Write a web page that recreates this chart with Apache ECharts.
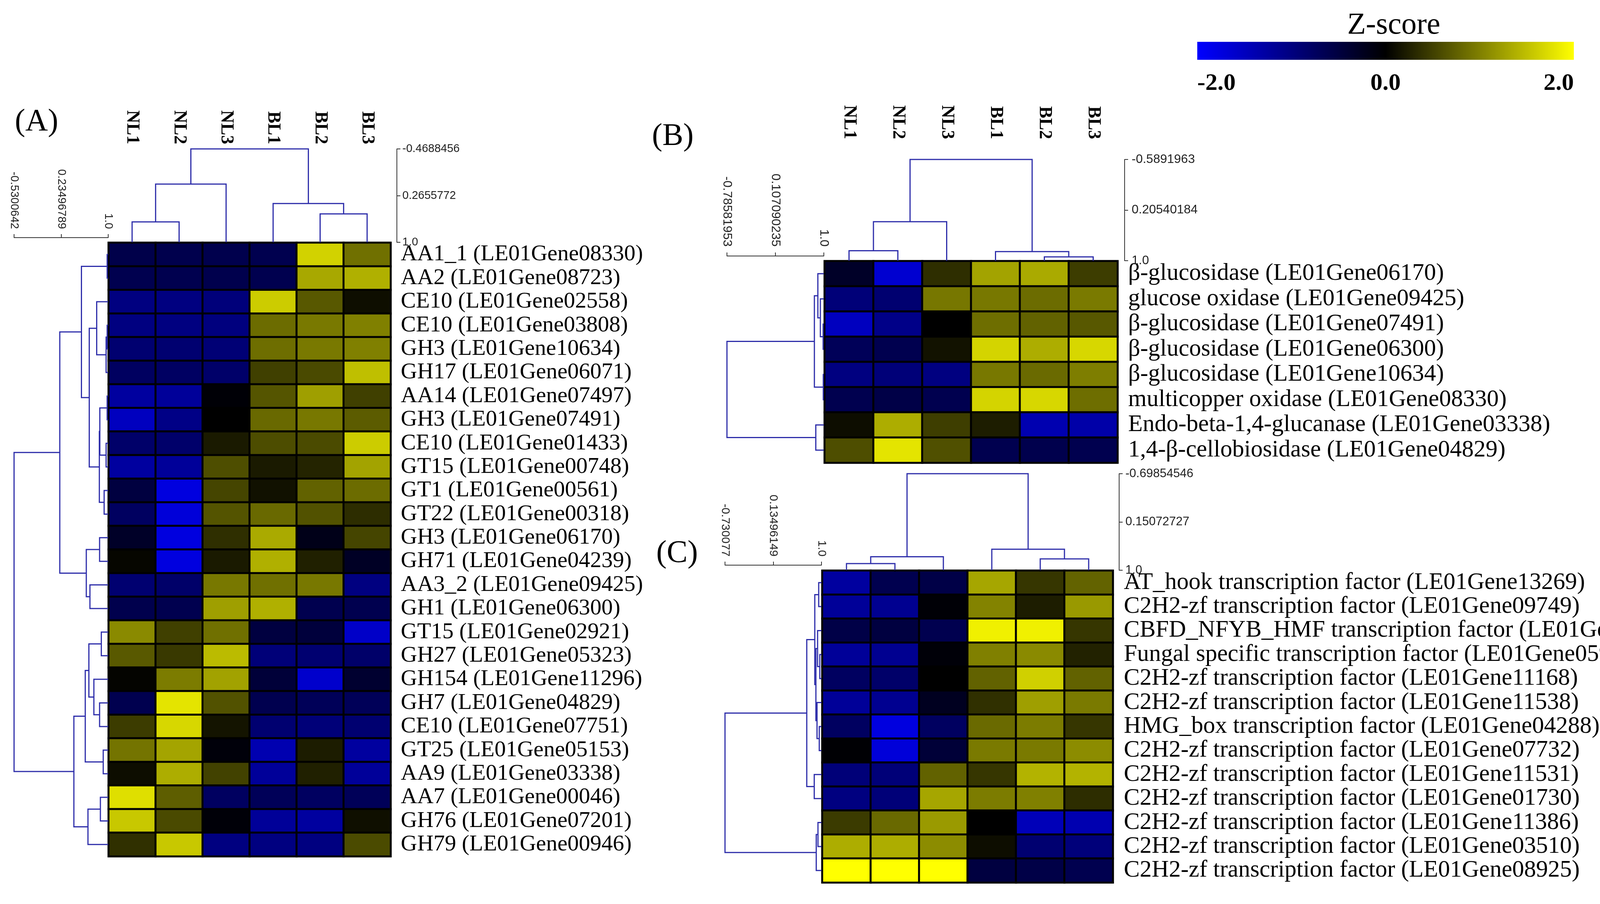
<!DOCTYPE html>
<html><head><meta charset="utf-8">
<script src="https://cdn.jsdelivr.net/npm/echarts@6/dist/echarts.min.js"></script>
<style>html,body{margin:0;padding:0;background:#fff}#c{width:4375px;height:2313px}</style>
</head><body><div id="c"></div>
<script>
// ---------------- DATA ----------------
const samples = ['NL1','NL2','NL3','BL1','BL2','BL3'];

const genesA = ['AA1_1 (LE01Gene08330)','AA2 (LE01Gene08723)','CE10 (LE01Gene02558)','CE10 (LE01Gene03808)',
  'GH3 (LE01Gene10634)','GH17 (LE01Gene06071)','AA14 (LE01Gene07497)','GH3 (LE01Gene07491)','CE10 (LE01Gene01433)',
  'GT15 (LE01Gene00748)','GT1 (LE01Gene00561)','GT22 (LE01Gene00318)','GH3 (LE01Gene06170)','GH71 (LE01Gene04239)',
  'AA3_2 (LE01Gene09425)','GH1 (LE01Gene06300)','GT15 (LE01Gene02921)','GH27 (LE01Gene05323)','GH154 (LE01Gene11296)',
  'GH7 (LE01Gene04829)','CE10 (LE01Gene07751)','GT25 (LE01Gene05153)','AA9 (LE01Gene03338)','AA7 (LE01Gene00046)',
  'GH76 (LE01Gene07201)','GH79 (LE01Gene00946)'];
const zA = [
  [-0.58,-0.60,-0.60,-0.62, 1.65, 0.88],
  [-0.62,-0.62,-0.60,-0.62, 1.32, 1.38],
  [-1.00,-1.00,-0.96, 1.60, 0.69, 0.11],
  [-1.00,-1.00,-0.99, 0.85, 0.95, 1.00],
  [-0.88,-0.88,-0.92, 0.86, 0.95, 1.00],
  [-0.75,-0.77,-0.82, 0.50, 0.58, 1.50],
  [-1.25,-1.20,-0.05, 0.67, 1.25, 0.50],
  [-1.50,-1.05, 0.00, 0.82, 0.94, 0.72],
  [-0.82,-0.83, 0.20, 0.60, 0.59, 1.60],
  [-1.25,-1.20, 0.61, 0.20, 0.28, 1.28],
  [-0.50,-1.75, 0.54, 0.13, 0.77, 0.85],
  [-0.75,-1.70, 0.66, 0.82, 0.64, 0.35],
  [-0.31,-1.75, 0.37, 1.33,-0.19, 0.54],
  [ 0.05,-1.75, 0.20, 1.38, 0.25,-0.29],
  [-0.88,-0.82, 0.94, 0.88, 0.94,-1.00],
  [-0.60,-0.62, 1.25, 1.38,-0.62,-0.62],
  [ 1.08, 0.50, 0.88,-0.50,-0.47,-1.57],
  [ 0.70, 0.45, 1.47,-0.94,-0.88,-0.82],
  [ 0.03, 0.97, 1.27,-0.45,-1.60,-0.38],
  [-0.62, 1.79, 0.64,-0.62,-0.69,-0.69],
  [ 0.47, 1.69, 0.16,-0.88,-0.94,-0.88],
  [ 0.91, 1.29,-0.08,-1.38, 0.22,-1.25],
  [ 0.10, 1.36, 0.52,-1.20, 0.25,-1.20],
  [ 1.75, 0.74,-0.75,-0.69,-0.75,-0.69],
  [ 1.57, 0.58,-0.06,-1.19,-1.25, 0.12],
  [ 0.38, 1.57,-1.00,-1.00,-1.00, 0.59]];

const genesB = ['β-glucosidase (LE01Gene06170)','glucose oxidase (LE01Gene09425)','β-glucosidase (LE01Gene07491)',
  'β-glucosidase (LE01Gene06300)','β-glucosidase (LE01Gene10634)','multicopper oxidase (LE01Gene08330)',
  'Endo-beta-1,4-glucanase (LE01Gene03338)','1,4-β-cellobiosidase (LE01Gene04829)'];
const zB = [
  [-0.31,-1.63, 0.36, 1.28, 1.33, 0.48],
  [-0.94,-0.88, 0.93, 0.94, 0.85, 0.96],
  [-1.50,-1.07, 0.00, 0.86, 0.77, 0.69],
  [-0.69,-0.62, 0.14, 1.66, 1.36, 1.69],
  [-1.00,-0.94,-1.00, 0.94, 0.83, 0.99],
  [-0.62,-0.56,-0.62, 1.66, 1.69, 0.86],
  [ 0.10, 1.36, 0.49, 0.23,-1.38,-1.32],
  [ 0.61, 1.79, 0.63,-0.62,-0.60,-0.62]];

const genesC = ['AT_hook transcription factor (LE01Gene13269)','C2H2-zf transcription factor (LE01Gene09749)',
  'CBFD_NFYB_HMF transcription factor (LE01Gene09820)','Fungal specific transcription factor (LE01Gene05969)',
  'C2H2-zf transcription factor (LE01Gene11168)','C2H2-zf transcription factor (LE01Gene11538)',
  'HMG_box transcription factor (LE01Gene04288)','C2H2-zf transcription factor (LE01Gene07732)',
  'C2H2-zf transcription factor (LE01Gene11531)','C2H2-zf transcription factor (LE01Gene01730)',
  'C2H2-zf transcription factor (LE01Gene11386)','C2H2-zf transcription factor (LE01Gene03510)',
  'C2H2-zf transcription factor (LE01Gene08925)'];
const zC = [
  [-1.25,-0.62,-0.56, 1.30, 0.42, 0.78],
  [-1.19,-1.13,-0.05, 1.03, 0.23, 1.20],
  [-0.56,-0.50,-0.62, 1.88, 1.88, 0.42],
  [-1.19,-1.13,-0.06, 1.00, 1.08, 0.27],
  [-0.75,-0.82, 0.00, 0.77, 1.63, 0.77],
  [-1.19,-1.13,-0.25, 0.38, 1.25, 0.96],
  [-0.75,-1.75,-0.75, 0.83, 0.97, 0.42],
  [-0.03,-1.70,-0.44, 0.96, 0.96, 1.10],
  [-0.94,-0.94, 0.77, 0.42, 1.40, 1.40],
  [-1.00,-0.94, 1.30, 0.97, 1.00, 0.35],
  [ 0.46, 0.82, 1.21, 0.00,-1.44,-1.38],
  [ 1.36, 1.36, 1.10, 0.10,-0.88,-0.96],
  [ 2.00, 2.00, 2.00,-0.50,-0.56,-0.62]];

// dendrograms: [left, right, mergeHeight]; leaves are row/column indices (leaf height 1.0)
const colTreeA = [[[0,1,0.679],2,0.085],[3,[4,5,0.553],0.39],-0.4688456];
const rowTreeA = [
  [[[0,1,0.983],[[2,[[3,4,0.983],5,0.966],0.813],[[[6,7,0.983],[8,9,0.966],0.864],[10,11,0.934],0.856],0.692],0.565],
   [[12,13,0.86],[14,15,0.703],0.644],0.213],
  [[[[16,17,0.888],[18,[19,20,0.86],0.767],0.686],[21,22,0.919],0.627],[[23,24,0.873],25,0.671],0.442],
  -0.5300642];
const colTreeB = [[[0,1,0.844],2,0.388],[3,[4,5,0.94],0.858],-0.5891963];
const rowTreeB = [[[0,[1,[2,3,0.987],0.936],0.89],[4,5,0.99],0.826],[6,7,0.852],-0.78581953];
const colTreeC = [[[0,1,0.883],2,0.762],[3,[4,5,0.801],0.631],-0.69854546];
const rowTreeC = [[[[0,1,0.95],[[2,[3,4,0.97],0.93],[5,[6,7,0.96],0.92],0.9],0.88],[8,9,0.87],0.736],
  [[10,11,0.937],12,0.906],-0.730077];

// dendrogram scale tick labels
const colScaleA = ['-0.4688456','0.2655772','1.0'];
const rowScaleA = ['-0.5300642','0.23496789','1.0'];
const colScaleB = ['-0.5891963','0.20540184','1.0'];
const rowScaleB = ['-0.78581953','0.107090235','1.0'];
const colScaleC = ['-0.69854546','0.15072727','1.0'];
const rowScaleC = ['-0.730077','0.13496149','1.0'];

const zTicks = [-2, 0, 2];
const zTickLabels = ['-2.0','0.0','2.0'];
const zColors = ['#0000ff','#000000','#ffff00'];

// ---------------- HELPERS ----------------
const SERIF = "'Liberation Serif','Times New Roman',serif";
const SANS = "'Liberation Sans',Arial,sans-serif";
const DCOLOR = '#2e2eaa';

function heatData(z){const d=[];z.forEach((row,r)=>row.forEach((v,c)=>d.push([c,r,v])));return d;}
function links(tree){
  const out=[];
  (function walk(n){
    if(typeof n==='number') return {p:n,h:1.0};
    const a=walk(n[0]), b=walk(n[1]);
    out.push([a.p,a.h,b.p,b.h,n[2]]);
    return {p:(a.p+b.p)/2,h:n[2]};
  })(tree);
  return out;
}
function nearestLabel(labels){
  const vals=labels.map(parseFloat);
  return v=>{let bi=0;vals.forEach((t,i)=>{if(Math.abs(t-v)<Math.abs(vals[bi]-v))bi=i;});return labels[bi];};
}
function colRender(params, api){
  const p1=api.value(0),h1=api.value(1),p2=api.value(2),h2=api.value(3),h=api.value(4);
  return {type:'polyline',shape:{points:[api.coord([p1,h1]),api.coord([p1,h]),api.coord([p2,h]),api.coord([p2,h2])]},
    style:{stroke:DCOLOR,lineWidth:3,fill:null}};
}
function rowRender(params, api){
  const p1=api.value(0),h1=api.value(1),p2=api.value(2),h2=api.value(3),h=api.value(4);
  return {type:'polyline',shape:{points:[api.coord([h1,p1]),api.coord([h,p1]),api.coord([h,p2]),api.coord([h2,p2])]},
    style:{stroke:DCOLOR,lineWidth:3,fill:null}};
}
function posAxis(grid,n,inverse){return {type:'value',gridIndex:grid,min:-0.5,max:n-0.5,inverse:!!inverse,show:false};}
function scaleAxis(grid,labels,position,offset,fontSize,margin,rotate){
  const vals=labels.map(parseFloat);
  return {type:'value',gridIndex:grid,min:vals[0],max:vals[vals.length-1],inverse:position==='right',
    position,offset,
    axisLine:{show:true,onZero:false,lineStyle:{color:'#333',width:2}},
    axisTick:{show:true,length:9,customValues:vals,lineStyle:{color:'#333',width:2}},
    axisLabel:{show:true,customValues:vals,formatter:nearestLabel(labels),fontSize,fontFamily:SANS,color:'#222',
      margin,rotate:rotate||0},
    splitLine:{show:false}};
}
function heatX(grid,offset,show){
  return {type:'category',gridIndex:grid,data:samples,position:'top',offset,
    axisLine:{show:false,onZero:false},axisTick:{show:false},splitLine:{show:false},
    axisLabel:{show:show,interval:0,rotate:90,fontFamily:SERIF,fontWeight:'bold',fontSize:46,color:'#000',margin:12}};
}
function heatY(grid,genes,fontSize,margin){
  return {type:'category',gridIndex:grid,data:genes,position:'right',inverse:true,
    axisLine:{show:false,onZero:false},axisTick:{show:false},splitLine:{show:false},
    axisLabel:{interval:0,fontFamily:SERIF,fontSize,color:'#000',margin,padding:[10,0,0,0]}};
}

// ---------------- LAYOUT ----------------
const grids = [
  {left:278, top:621, width:722, height:1570},   // 0 A heat
  {left:278, top:381, width:722, height:239},    // 1 A col dendro
  {left:36,  top:621, width:241, height:1570},   // 2 A row dendro
  {left:2111,top:668, width:750, height:516},    // 3 B heat
  {left:2111,top:408, width:750, height:259},    // 4 B col dendro
  {left:1861,top:668, width:248, height:516},    // 5 B row dendro
  {left:2105,top:1460,width:744, height:798},    // 6 C heat
  {left:2105,top:1212,width:744, height:247},    // 7 C col dendro
  {left:1856,top:1460,width:247, height:798},    // 8 C row dendro
  {left:3065,top:107, width:964, height:46}      // 9 colour bar
];

const xAxis = [
  heatX(0,240,true),
  posAxis(1,6),
  scaleAxis(2,rowScaleA,'top',13,29,22,90),
  heatX(3,300,true),
  posAxis(4,6),
  scaleAxis(5,rowScaleB,'top',13,32,24,90),
  heatX(6,0,false),
  posAxis(7,6),
  scaleAxis(8,rowScaleC,'top',14,30,22,90),
  {type:'value',gridIndex:9,min:zTicks[0],max:zTicks[2],interval:2,position:'bottom',
    axisLine:{show:false,onZero:false},axisTick:{show:false},splitLine:{show:false},
    axisLabel:{formatter:v=>zTickLabels[zTicks.indexOf(v)],fontFamily:SERIF,fontWeight:'bold',fontSize:62,color:'#000',
      margin:30,alignMinLabel:'left',alignMaxLabel:'right'}}
];
const yAxis = [
  heatY(0,genesA,58,26),
  scaleAxis(1,colScaleA,'right',16,29,14),
  posAxis(2,genesA.length,true),
  heatY(3,genesB,61,27),
  scaleAxis(4,colScaleB,'right',18,32,18),
  posAxis(5,genesB.length,true),
  heatY(6,genesC,61,28),
  scaleAxis(7,colScaleC,'right',16,31,16),
  posAxis(8,genesC.length,true),
  {type:'value',gridIndex:9,min:0,max:1,show:false}
];

const heatStyle = {borderColor:'#000',borderWidth:5};
const series = [
  {type:'heatmap',xAxisIndex:0,yAxisIndex:0,data:heatData(zA),itemStyle:heatStyle,emphasis:{disabled:true}},
  {type:'heatmap',xAxisIndex:3,yAxisIndex:3,data:heatData(zB),itemStyle:heatStyle,emphasis:{disabled:true}},
  {type:'heatmap',xAxisIndex:6,yAxisIndex:6,data:heatData(zC),itemStyle:heatStyle,emphasis:{disabled:true}},
  {type:'custom',xAxisIndex:1,yAxisIndex:1,data:links(colTreeA),renderItem:colRender,silent:true,clip:false,encode:{x:[0,2],y:[1,3]}},
  {type:'custom',xAxisIndex:2,yAxisIndex:2,data:links(rowTreeA),renderItem:rowRender,silent:true,clip:false,encode:{x:[1,3],y:[0,2]}},
  {type:'custom',xAxisIndex:4,yAxisIndex:4,data:links(colTreeB),renderItem:colRender,silent:true,clip:false,encode:{x:[0,2],y:[1,3]}},
  {type:'custom',xAxisIndex:5,yAxisIndex:5,data:links(rowTreeB),renderItem:rowRender,silent:true,clip:false,encode:{x:[1,3],y:[0,2]}},
  {type:'custom',xAxisIndex:7,yAxisIndex:7,data:links(colTreeC),renderItem:colRender,silent:true,clip:false,encode:{x:[0,2],y:[1,3]}},
  {type:'custom',xAxisIndex:8,yAxisIndex:8,data:links(rowTreeC),renderItem:rowRender,silent:true,clip:false,encode:{x:[1,3],y:[0,2]}},
  {type:'custom',xAxisIndex:9,yAxisIndex:9,data:[[zTicks[0],zTicks[2]]],silent:true,
    renderItem:(params,api)=>{
      const a=api.coord([api.value(0),1]), b=api.coord([api.value(1),0]);
      return {type:'rect',shape:{x:a[0],y:a[1],width:b[0]-a[0],height:b[1]-a[1]},
        style:{fill:{type:'linear',x:0,y:0,x2:1,y2:0,colorStops:zColors.map((c,i)=>({offset:i/(zColors.length-1),color:c}))}}};
    }}
];

const chart = echarts.init(document.getElementById('c'), null, {renderer:'canvas'});
chart.setOption({
  animation:false,
  backgroundColor:'#fff',
  title:[
    {text:'(A)',left:33,top:268,textStyle:{fontFamily:SERIF,fontSize:80,fontWeight:'normal',color:'#000'}},
    {text:'(B)',left:1664,top:305,textStyle:{fontFamily:SERIF,fontSize:80,fontWeight:'normal',color:'#000'}},
    {text:'(C)',left:1675,top:1372,textStyle:{fontFamily:SERIF,fontSize:80,fontWeight:'normal',color:'#000'}},
    {text:'Z-score',left:3563,top:22,textAlign:'center',textStyle:{fontFamily:SERIF,fontSize:78,fontWeight:'normal',color:'#000'}}
  ],
  grid:grids,
  xAxis, yAxis,
  visualMap:{type:'continuous',min:zTicks[0],max:zTicks[2],show:false,seriesIndex:[0,1,2],inRange:{color:zColors}},
  series
});
</script></body></html>
